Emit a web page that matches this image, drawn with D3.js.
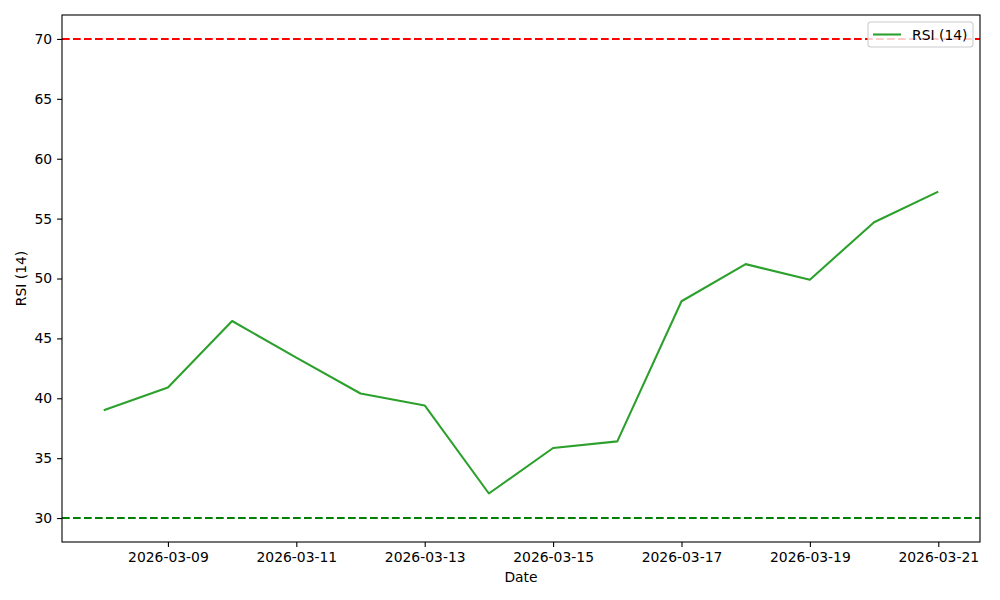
<!DOCTYPE html>
<html>
<head>
<meta charset="utf-8">
<script src="https://cdn.jsdelivr.net/npm/d3@7"></script>
<style>
  body { margin: 0; background: #fff; }
  svg { display: block; font-family: "DejaVu Sans", sans-serif; }
</style>
</head>
<body>
<svg id="chart" width="1000" height="600"></svg>
<script>
const dates = ["2026-03-08","2026-03-09","2026-03-10","2026-03-11","2026-03-12","2026-03-13","2026-03-14",
               "2026-03-15","2026-03-16","2026-03-17","2026-03-18","2026-03-19","2026-03-20","2026-03-21"];
const rsiValues = [39.0, 40.9, 46.45, 43.4, 40.4, 39.4, 32.05, 35.85, 36.4, 48.1, 51.2, 49.9, 54.7, 57.25];
const yTicks = [30, 35, 40, 45, 50, 55, 60, 65, 70];
const xTickLabels = ["2026-03-09","2026-03-11","2026-03-13","2026-03-15","2026-03-17","2026-03-19","2026-03-21"];
const levels = [{value: 70, color: "#ff0000"}, {value: 30, color: "#008000"}];
const seriesName = "RSI (14)";

const parse = d3.utcParse("%Y-%m-%d");
const data = dates.map((d, i) => ({date: parse(d), value: rsiValues[i]}));

const svg = d3.select("#chart");
const m = {left: 62, right: 20, top: 15, bottom: 58};
const W = 1000, H = 600;
const iw = W - m.left - m.right, ih = H - m.top - m.bottom;

const day = 86400000;
const t0 = data[0].date.getTime(), t1 = data[data.length-1].date.getTime();
const pad = (t1 - t0) * 0.05;
const x = d3.scaleUtc().domain([new Date(t0 - pad), new Date(t1 + pad)]).range([m.left, m.left + iw]);
const y = d3.scaleLinear().domain([28, 72]).range([m.top + ih, m.top]);

const fs = "13.9px";

// axes
const xAxis = d3.axisBottom(x).tickValues(xTickLabels.map(parse)).tickFormat(d3.utcFormat("%Y-%m-%d")).tickSizeOuter(0).tickSize(4.9).tickPadding(4.9);
const gx = svg.append("g").attr("transform", `translate(0,${m.top + ih})`).call(xAxis);
gx.select(".domain").remove();
gx.selectAll("line").attr("stroke", "#000").attr("stroke-width", 1.1);
gx.selectAll("text").attr("font-size", fs).attr("fill", "#000").attr("font-family", "DejaVu Sans");

const yAxis = d3.axisLeft(y).tickValues(yTicks).tickSizeOuter(0).tickSize(4.9).tickPadding(4.9);
const gy = svg.append("g").attr("transform", `translate(${m.left},0)`).call(yAxis);
gy.select(".domain").remove();
gy.selectAll("line").attr("stroke", "#000").attr("stroke-width", 1.1);
gy.selectAll("text").attr("font-size", fs).attr("fill", "#000").attr("font-family", "DejaVu Sans");

// reference lines
svg.selectAll(".lvl").data(levels).enter().append("line")
  .attr("x1", m.left).attr("x2", m.left + iw)
  .attr("y1", d => y(d.value)).attr("y2", d => y(d.value))
  .attr("stroke", d => d.color).attr("stroke-width", 2.08)
  .attr("stroke-dasharray", "7.7,3.3");

// series line
const line = d3.line().x(d => x(d.date)).y(d => y(d.value));
svg.append("path").datum(data).attr("d", line)
  .attr("fill", "none").attr("stroke", "#2ca02c").attr("stroke-width", 2.08)
  .attr("stroke-linejoin", "round");

// frame
svg.append("rect").attr("x", m.left).attr("y", m.top).attr("width", iw).attr("height", ih)
  .attr("fill", "none").attr("stroke", "#000").attr("stroke-width", 1.1);

// axis labels
svg.append("text").attr("x", m.left + iw/2).attr("y", 582).attr("text-anchor", "middle")
  .attr("font-size", fs).text("Date");
svg.append("text").attr("transform", `translate(26,${m.top + ih/2}) rotate(-90)`).attr("text-anchor", "middle")
  .attr("font-size", fs).text(seriesName);

// legend
const lg = svg.append("g").attr("transform", "translate(868,22)");
lg.append("rect").attr("x", 0).attr("y", 0).attr("width", 105).attr("height", 25).attr("rx", 3)
  .attr("fill", "#fff").attr("fill-opacity", 0.8).attr("stroke", "#cccccc").attr("stroke-width", 1.1);
lg.append("line").attr("x1", 5).attr("x2", 33).attr("y1", 12.5).attr("y2", 12.5)
  .attr("stroke", "#2ca02c").attr("stroke-width", 2.08);
lg.append("text").attr("x", 44).attr("y", 17.5).attr("font-size", fs).text(seriesName);
</script>
</body>
</html>
